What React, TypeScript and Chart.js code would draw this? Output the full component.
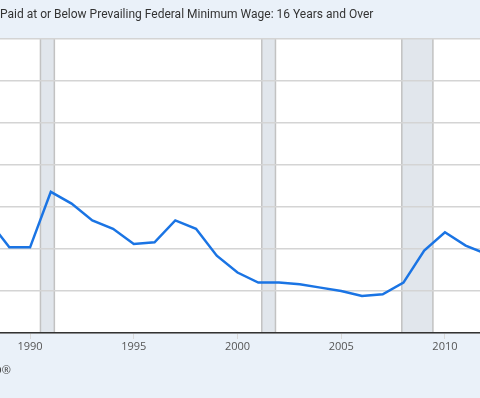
import React, { useEffect, useRef } from "react";
import { Chart, registerables } from "chart.js";

Chart.register(...registerables);

const years = [1988, 1989, 1990, 1991, 1992, 1993, 1994, 1995, 1996, 1997, 1998, 1999, 2000, 2001, 2002, 2003, 2004, 2005, 2006, 2007, 2008, 2009, 2010, 2011, 2012];
const percentAtOrBelowMin = [6.7, 5.1, 5.1, 8.4, 7.7, 6.7, 6.2, 5.3, 5.4, 6.7, 6.2, 4.6, 3.6, 3.0, 3.0, 2.9, 2.7, 2.5, 2.2, 2.3, 3.0, 4.9, 6.0, 5.2, 4.7];
const xTicks = [1990, 1995, 2000, 2005, 2010];
const recessionStarts = [1990.5, 2001.17, 2007.92];
const recessionEnds = [1991.17, 2001.83, 2009.42];
const titleText = "Paid at or Below Prevailing Federal Minimum Wage: 16 Years and Over";
const sourceText = "Source: U.S. Bureau of Labor Statistics via FRED®";

const X_MIN = 1988.55;
const X_MAX = 2011.69;

const decorPlugin = {
  id: "decor",
  beforeDraw(chart: any) {
    const { ctx, chartArea, scales } = chart;
    ctx.save();
    ctx.fillStyle = "#ffffff";
    ctx.fillRect(chartArea.left, chartArea.top, chartArea.right - chartArea.left, chartArea.bottom - chartArea.top);
    for (let i = 0; i < recessionStarts.length; i++) {
      const x0 = scales.x.getPixelForValue(recessionStarts[i]);
      const x1 = scales.x.getPixelForValue(recessionEnds[i]);
      ctx.fillStyle = "#e1e6ec";
      ctx.fillRect(x0, chartArea.top, x1 - x0, chartArea.bottom - chartArea.top);
      ctx.strokeStyle = "#c2c2c2";
      ctx.lineWidth = 1.5;
      ctx.beginPath();
      ctx.moveTo(x0, chartArea.top);
      ctx.lineTo(x0, chartArea.bottom);
      ctx.moveTo(x1, chartArea.top);
      ctx.lineTo(x1, chartArea.bottom);
      ctx.stroke();
    }
    ctx.fillStyle = "#333333";
    ctx.font = "12px Roboto";
    ctx.textBaseline = "middle";
    ctx.textAlign = "left";
    ctx.fillText(titleText, 0, 15);
    ctx.fillStyle = "#444444";
    ctx.font = "11px 'Open Sans'";
    ctx.textAlign = "right";
    ctx.fillText(sourceText, 11, 371);
    ctx.restore();
  },
};

export default function App() {
  const ref = useRef<HTMLCanvasElement | null>(null);
  useEffect(() => {
    if (!ref.current) return;
    const chart = new Chart(ref.current, {
      type: "line",
      data: {
        datasets: [
          {
            label: "Workers paid at or below minimum wage",
            data: years.map((y, i) => ({ x: y, y: percentAtOrBelowMin[i] })),
            borderColor: "#1a74e4",
            borderWidth: 2.5,
            pointRadius: 0,
            tension: 0,
            fill: false,
          },
        ],
      },
      options: {
        animation: false,
        responsive: false,
        maintainAspectRatio: false,
        layout: { padding: { top: 39, left: 0, right: 0, bottom: 0 } },
        plugins: { legend: { display: false }, tooltip: { enabled: false }, title: { display: false } },
        scales: {
          x: {
            type: "linear",
            min: X_MIN,
            max: X_MAX,
            afterBuildTicks: (s: any) => {
              s.ticks = xTicks.map((v) => ({ value: v }));
            },
            afterFit: (s: any) => {
              s.height = 65;
            },
            ticks: {
              callback: (v: any) => String(v),
              color: "#555555",
              font: { family: "'Open Sans'", size: 11 },
              padding: 1,
              maxRotation: 0,
              autoSkip: false,
            },
            grid: { drawOnChartArea: false, drawTicks: true, tickLength: 6, color: "#d9d9d9" },
            border: { display: true, color: "#333333", width: 1.5 },
          },
          y: {
            min: 0,
            max: 17.5,
            ticks: { stepSize: 2.5, display: false },
            afterFit: (s: any) => {
              s.width = 0;
            },
            grid: { color: "#d4d4d4", lineWidth: 1.5, drawTicks: false },
            border: { display: false },
          },
        },
      },
      plugins: [decorPlugin],
    });
    return () => chart.destroy();
  }, []);
  return (
    <div style={{ position: "fixed", left: 0, top: 0, width: 480, height: 398, background: "#eaf1f9" }}>
      <canvas ref={ref} width={480} height={398} style={{ display: "block", width: 480, height: 398 }} />
    </div>
  );
}
